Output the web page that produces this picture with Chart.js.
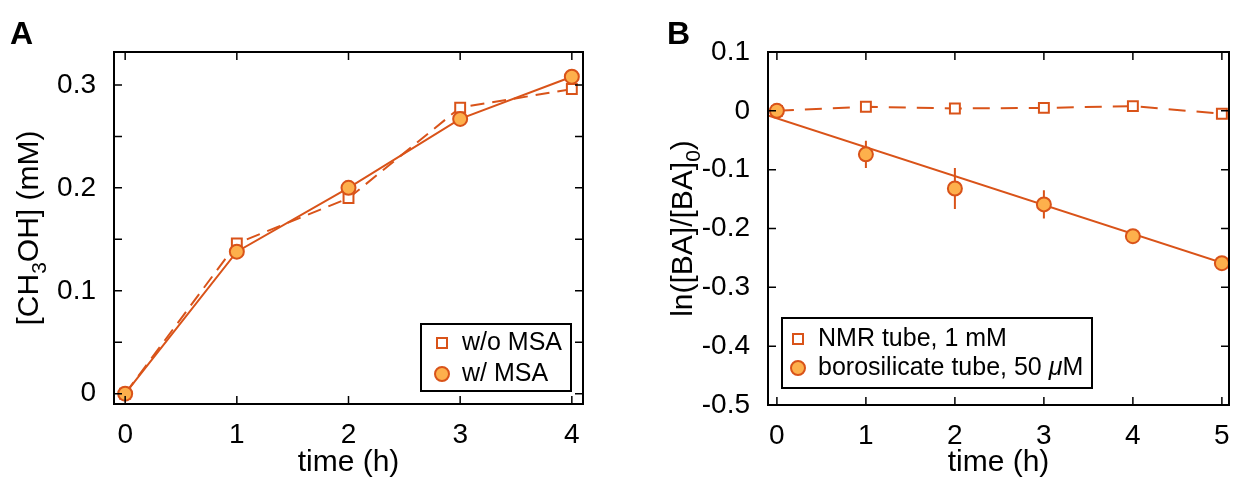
<!DOCTYPE html>
<html>
<head>
<meta charset="utf-8">
<title>CH3OH / BA kinetics</title>
<script src="https://cdn.jsdelivr.net/npm/chart.js@4.4.0/dist/chart.umd.min.js"></script>
<style>
  html, body { margin: 0; padding: 0; background: #fff; }
  #wrap { position: relative; width: 1238px; height: 479px; }
  canvas { position: absolute; left: 0; top: 0; }
</style>
</head>
<body>
<div id="wrap">
  <canvas id="chartA" width="1238" height="479"></canvas>
  <canvas id="chartB" width="1238" height="479"></canvas>
</div>
<script>
// ---- Panel A: methanol formation ----
const timeA = [0, 1, 2, 3, 4];
const withoutMSA = [0, 0.146, 0.190, 0.278, 0.296];
const withMSA = [0, 0.138, 0.200, 0.267, 0.308];
const xTicksA = [0, 1, 2, 3, 4];
const yTicksA = [0, 0.05, 0.1, 0.15, 0.2, 0.25, 0.3];
const yLabelsA = ["0", "", "0.1", "", "0.2", "", "0.3"];

// ---- Panel B: ln([BA]/[BA]0) ----
const timeB = [0, 1, 2, 3, 4, 5];
const nmrTube = [0, 0.007, 0.004, 0.005, 0.008, -0.005];
const boroTube = [0, -0.074, -0.132, -0.159, -0.213, -0.259];
const boroErr = [0, 0.023, 0.035, 0.024, 0.006, 0.012];
const fitX = [-0.1, 5.08];
const fitY = [-0.008, -0.262];
const xTicksB = [0, 1, 2, 3, 4, 5];
const yTicksB = [-0.5, -0.4, -0.3, -0.2, -0.1, 0, 0.1];
const yLabelsB = ["-0.5", "-0.4", "-0.3", "-0.2", "-0.1", "0", "0.1"];

const LINE = "#D95319";
const FILL = "#FDB04C";
const FONT = "'Liberation Sans', Arial, Helvetica, sans-serif";

Chart.defaults.font.family = FONT;
Chart.defaults.color = "#000";

const pts = (xs, ys) => xs.map((x, i) => ({ x: x, y: ys[i] }));

// rotated axis title, parts may be subscripts
function drawVertical(ctx, parts, bx, cy, size) {
  ctx.save();
  ctx.textBaseline = "alphabetic";
  let total = 0;
  parts.forEach(p => {
    ctx.font = `${p.sub ? size * 0.7 : size}px ${FONT}`;
    p.w = ctx.measureText(p.t).width;
    total += p.w;
  });
  ctx.translate(bx, cy);
  ctx.rotate(-Math.PI / 2);
  let x = -total / 2;
  parts.forEach(p => {
    ctx.font = `${p.sub ? size * 0.7 : size}px ${FONT}`;
    ctx.fillText(p.t, x, p.sub ? size * 0.28 : 0);
    x += p.w;
  });
  ctx.restore();
}

function drawMarker(ctx, kind, x, y) {
  ctx.save();
  ctx.lineWidth = 2;
  ctx.strokeStyle = LINE;
  if (kind === "rect") {
    ctx.fillStyle = "#fff";
    ctx.fillRect(x - 5, y - 5, 10, 10);
    ctx.strokeRect(x - 5, y - 5, 10, 10);
  } else {
    ctx.fillStyle = FILL;
    ctx.beginPath();
    ctx.arc(x, y, 7, 0, Math.PI * 2);
    ctx.fill();
    ctx.stroke();
  }
  ctx.restore();
}

function drawLegend(ctx, lg) {
  ctx.save();
  ctx.fillStyle = "#fff";
  ctx.fillRect(lg.x, lg.y, lg.w, lg.h);
  ctx.lineWidth = 2;
  ctx.strokeStyle = "#000";
  ctx.strokeRect(lg.x, lg.y, lg.w, lg.h);
  ctx.fillStyle = "#000";
  ctx.textBaseline = "middle";
  lg.items.forEach((it, i) => {
    const y = lg.rows[i];
    drawMarker(ctx, it.marker, lg.mx, y);
    let x = lg.tx;
    it.parts.forEach(p => {
      ctx.font = `${p.italic ? "italic " : ""}25px ${FONT}`;
      ctx.fillText(p.t, x, y);
      x += ctx.measureText(p.t).width;
    });
  });
  ctx.restore();
}

function framePlugin(cfg) {
  return {
    id: "frame",
    beforeDatasetsDraw(chart) {
      if (!cfg.errors) return;
      const ctx = chart.ctx, xs = chart.scales.x, ys = chart.scales.y;
      ctx.save();
      ctx.strokeStyle = LINE;
      ctx.lineWidth = 2;
      ctx.beginPath();
      cfg.errors.x.forEach((xv, i) => {
        const e = cfg.errors.e[i];
        if (!e) return;
        const px = xs.getPixelForValue(xv);
        ctx.moveTo(px, ys.getPixelForValue(cfg.errors.y[i] - e));
        ctx.lineTo(px, ys.getPixelForValue(cfg.errors.y[i] + e));
      });
      ctx.stroke();
      ctx.restore();
    },
    afterDraw(chart) {
      const ctx = chart.ctx, a = chart.chartArea, xs = chart.scales.x, ys = chart.scales.y;
      const tl = 8;
      ctx.save();
      ctx.strokeStyle = "#000";
      ctx.lineWidth = 1.5;
      ctx.beginPath();
      xs.ticks.forEach(t => {
        const p = xs.getPixelForValue(t.value);
        ctx.moveTo(p, a.bottom); ctx.lineTo(p, a.bottom - tl);
        ctx.moveTo(p, a.top); ctx.lineTo(p, a.top + tl);
      });
      ys.ticks.forEach(t => {
        const p = ys.getPixelForValue(t.value);
        ctx.moveTo(a.left, p); ctx.lineTo(a.left + tl, p);
        ctx.moveTo(a.right, p); ctx.lineTo(a.right - tl, p);
      });
      ctx.stroke();
      ctx.lineWidth = 2;
      ctx.strokeRect(a.left, a.top, a.right - a.left, a.bottom - a.top);

      // x title
      ctx.fillStyle = "#000";
      ctx.font = `30px ${FONT}`;
      ctx.textAlign = "center";
      ctx.textBaseline = "alphabetic";
      ctx.fillText("time (h)", (a.left + a.right) / 2, 471);
      ctx.textAlign = "left";

      // y title
      drawVertical(ctx, cfg.yTitle, cfg.yTitleX, (a.top + a.bottom) / 2, 30);

      // panel letter
      ctx.font = `bold 32px ${FONT}`;
      ctx.fillText(cfg.letter, cfg.letterX, 44);

      drawLegend(ctx, cfg.legend);
      ctx.restore();
    }
  };
}

function scaleX(min, max, ticks, height) {
  return {
    type: "linear", min: min, max: max,
    afterBuildTicks: s => { s.ticks = ticks.map(v => ({ value: v })); },
    afterFit: s => { s.height = height; s.paddingLeft = 0; s.paddingRight = 0; },
    grid: { display: false }, border: { display: false },
    ticks: { autoSkip: false, maxRotation: 0, padding: 6, font: { size: 28 }, color: "#000",
             callback: v => String(v) }
  };
}

function scaleY(min, max, ticks, labels, width) {
  return {
    type: "linear", min: min, max: max,
    afterBuildTicks: s => { s.ticks = ticks.map(v => ({ value: v })); },
    afterFit: s => { s.width = width; s.paddingTop = 0; s.paddingBottom = 0; },
    grid: { display: false }, border: { display: false },
    ticks: { autoSkip: false, padding: 10, font: { size: 28 }, color: "#000",
             callback: (v, i) => labels[i] }
  };
}

const common = {
  responsive: false,
  animation: false,
  devicePixelRatio: 1,
  events: [],
  plugins: { legend: { display: false }, tooltip: { enabled: false } }
};

// ---- Chart A ----
new Chart(document.getElementById("chartA"), {
  type: "scatter",
  data: {
    datasets: [
      {
        label: "w/ MSA",
        data: pts(timeA, withMSA),
        showLine: true, borderColor: LINE, borderWidth: 2,
        pointStyle: "circle", pointRadius: 7, pointBorderWidth: 2,
        pointBackgroundColor: FILL, pointBorderColor: LINE,
        order: 0, clip: false
      },
      {
        label: "w/o MSA",
        data: pts(timeA, withoutMSA),
        showLine: true, borderColor: LINE, borderWidth: 2, borderDash: [14, 8],
        pointStyle: "rect", pointRadius: 7, pointBorderWidth: 2,
        pointBackgroundColor: "#fff", pointBorderColor: LINE,
        order: 1, clip: false
      }
    ]
  },
  options: Object.assign({}, common, {
    layout: { padding: { left: 0, top: 52, right: 655, bottom: 0 } },
    scales: {
      x: scaleX(-0.1, 4.1, xTicksA, 75),
      y: scaleY(-0.01, 0.332, yTicksA, yLabelsA, 114)
    }
  }),
  plugins: [framePlugin({
    letter: "A", letterX: 10,
    yTitleX: 38,
    yTitle: [{ t: "[CH" }, { t: "3", sub: true }, { t: "OH] (mM)" }],
    legend: {
      x: 421, y: 324, w: 150, h: 67, mx: 442, tx: 462, rows: [343, 374],
      items: [
        { marker: "rect", parts: [{ t: "w/o MSA" }] },
        { marker: "circle", parts: [{ t: "w/ MSA" }] }
      ]
    }
  })]
});

// ---- Chart B ----
new Chart(document.getElementById("chartB"), {
  type: "scatter",
  data: {
    datasets: [
      {
        label: "borosilicate tube, 50 \u03bcM",
        data: pts(timeB, boroTube),
        showLine: false,
        pointStyle: "circle", pointRadius: 7, pointBorderWidth: 2,
        pointBackgroundColor: FILL, pointBorderColor: LINE,
        order: 0, clip: false
      },
      {
        label: "NMR tube, 1 mM",
        data: pts(timeB, nmrTube),
        showLine: true, borderColor: LINE, borderWidth: 2, borderDash: [17, 11],
        pointStyle: "rect", pointRadius: 7, pointBorderWidth: 2,
        pointBackgroundColor: "#fff", pointBorderColor: LINE,
        order: 1, clip: false
      },
      {
        label: "fit",
        data: pts(fitX, fitY),
        showLine: true, borderColor: LINE, borderWidth: 2,
        pointRadius: 0, order: 2
      }
    ]
  },
  options: Object.assign({}, common, {
    layout: { padding: { left: 668, top: 52, right: 3, bottom: 0 } },
    scales: {
      x: scaleX(-0.1, 5.08, xTicksB, 74),
      y: scaleY(-0.5, 0.1, yTicksB, yLabelsB, 100)
    }
  }),
  plugins: [framePlugin({
    letter: "B", letterX: 667,
    yTitleX: 692,
    yTitle: [{ t: "ln([BA]/[BA]" }, { t: "0", sub: true }, { t: ")" }],
    errors: { x: timeB, y: boroTube, e: boroErr },
    legend: {
      x: 782, y: 318, w: 310, h: 70, mx: 798, tx: 818, rows: [339, 368],
      items: [
        { marker: "rect", parts: [{ t: "NMR tube, 1 mM" }] },
        { marker: "circle", parts: [{ t: "borosilicate tube, 50 " }, { t: "\u03bc", italic: true }, { t: "M" }] }
      ]
    }
  })]
});
</script>
</body>
</html>
